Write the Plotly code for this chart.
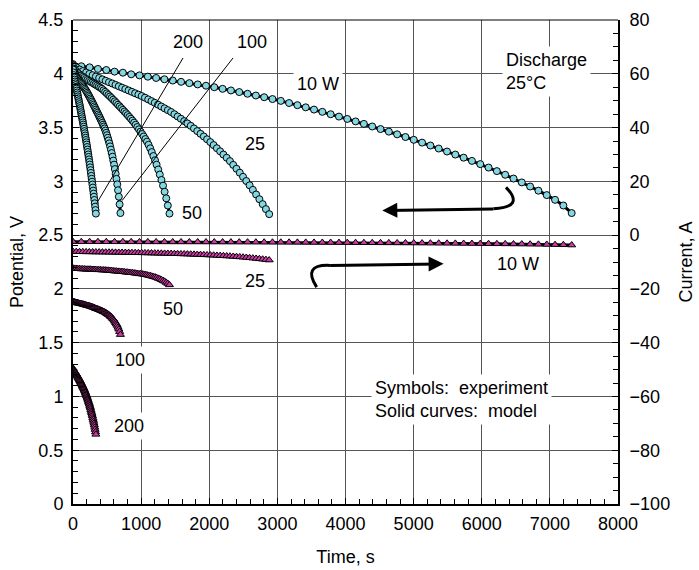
import plotly.graph_objects as go

# ---------------- discharge data (time in s, potential in V, current in A) ----------------
t_10 = [0, 122, 244, 366, 488, 610, 732, 854, 976, 1098, 1220, 1342, 1464, 1586, 1708, 1830, 1952,
        2074, 2196, 2318, 2440, 2562, 2684, 2806, 2928, 3050, 3172, 3294, 3416, 3538, 3660, 3782,
        3904, 4026, 4148, 4270, 4392, 4514, 4636, 4758, 4880, 5002, 5124, 5246, 5368, 5490, 5612,
        5734, 5856, 5978, 6100, 6222, 6344, 6466, 6588, 6710, 6832, 6954, 7076, 7198, 7320]
v_10 = [4.09, 4.07, 4.06, 4.045, 4.035, 4.02, 4.01, 3.995, 3.985, 3.973, 3.961, 3.949, 3.937, 3.925,
        3.913, 3.901, 3.889, 3.875, 3.860, 3.845, 3.830, 3.814, 3.798, 3.782, 3.765, 3.748, 3.728,
        3.708, 3.688, 3.667, 3.646, 3.624, 3.602, 3.580, 3.557, 3.534, 3.510, 3.486, 3.462, 3.437,
        3.412, 3.386, 3.360, 3.333, 3.305, 3.277, 3.249, 3.220, 3.190, 3.160, 3.128, 3.095, 3.061,
        3.026, 2.990, 2.952, 2.913, 2.872, 2.828, 2.775, 2.705]
i_10 = [-2.45, -2.46, -2.46, -2.47, -2.48, -2.49, -2.49, -2.50, -2.51, -2.52, -2.53, -2.53, -2.54,
        -2.55, -2.56, -2.56, -2.57, -2.58, -2.59, -2.60, -2.61, -2.62, -2.63, -2.64, -2.66, -2.67,
        -2.68, -2.70, -2.71, -2.73, -2.74, -2.76, -2.78, -2.79, -2.81, -2.83, -2.85, -2.87, -2.89,
        -2.91, -2.93, -2.95, -2.98, -3.00, -3.03, -3.05, -3.08, -3.11, -3.14, -3.17, -3.20, -3.23,
        -3.27, -3.31, -3.34, -3.39, -3.43, -3.48, -3.54, -3.60, -3.70]

t_25 = [0, 48, 96, 144, 192, 240, 288, 336, 384, 432, 480, 528, 576, 624, 672, 720, 768, 816, 864,
        912, 960, 1008, 1056, 1104, 1152, 1200, 1248, 1296, 1344, 1392, 1440, 1488, 1536, 1584,
        1632, 1680, 1728, 1776, 1824, 1872, 1920, 1968, 2016, 2064, 2112, 2160, 2208, 2256, 2304,
        2352, 2400, 2448, 2496, 2544, 2592, 2640, 2688, 2736, 2784, 2832, 2880]
v_25 = [4.08, 4.06, 4.04, 4.025, 4.012, 3.999, 3.987, 3.974, 3.961, 3.948, 3.935, 3.922, 3.910,
        3.897, 3.884, 3.871, 3.858, 3.845, 3.832, 3.819, 3.806, 3.793, 3.778, 3.762, 3.746, 3.730,
        3.713, 3.696, 3.679, 3.662, 3.645, 3.624, 3.603, 3.582, 3.560, 3.538, 3.516, 3.492, 3.467,
        3.442, 3.417, 3.391, 3.365, 3.337, 3.308, 3.279, 3.249, 3.219, 3.188, 3.153, 3.117, 3.080,
        3.042, 3.003, 2.963, 2.921, 2.878, 2.834, 2.788, 2.742, 2.695]
i_25 = [-6.13, -6.16, -6.19, -6.21, -6.23, -6.25, -6.27, -6.29, -6.31, -6.33, -6.35, -6.37, -6.39,
        -6.42, -6.44, -6.46, -6.48, -6.50, -6.52, -6.55, -6.57, -6.59, -6.62, -6.65, -6.67, -6.70,
        -6.73, -6.76, -6.80, -6.83, -6.86, -6.90, -6.94, -6.98, -7.02, -7.07, -7.11, -7.16, -7.21,
        -7.26, -7.32, -7.37, -7.43, -7.49, -7.56, -7.62, -7.69, -7.77, -7.84, -7.93, -8.02, -8.12,
        -8.22, -8.32, -8.44, -8.56, -8.69, -8.82, -8.97, -9.12, -9.28]

t_50 = [0, 24, 47, 71, 94, 118, 142, 165, 189, 212, 236, 260, 283, 307, 330, 354, 378, 401, 425,
        448, 472, 496, 519, 543, 566, 590, 614, 637, 661, 684, 708, 732, 755, 779, 802, 826, 850,
        873, 897, 920, 944, 968, 991, 1015, 1038, 1062, 1086, 1109, 1133, 1156, 1180, 1204, 1227,
        1251, 1274, 1298, 1322, 1345, 1369, 1392, 1416]
v_50 = [4.070, 4.045, 4.025, 4.008, 3.995, 3.983, 3.972, 3.962, 3.952, 3.943, 3.934, 3.925, 3.917,
        3.908, 3.899, 3.890, 3.880, 3.870, 3.860, 3.846, 3.832, 3.818, 3.803, 3.789, 3.774, 3.759,
        3.744, 3.728, 3.712, 3.697, 3.681, 3.665, 3.649, 3.633, 3.616, 3.599, 3.582, 3.564, 3.546,
        3.526, 3.505, 3.484, 3.462, 3.440, 3.417, 3.393, 3.369, 3.340, 3.307, 3.272, 3.235, 3.196,
        3.155, 3.110, 3.063, 3.013, 2.960, 2.903, 2.842, 2.775, 2.700]
i_50 = [-12.3, -12.4, -12.4, -12.5, -12.5, -12.6, -12.6, -12.6, -12.7, -12.7, -12.7, -12.7, -12.8,
        -12.8, -12.8, -12.9, -12.9, -12.9, -13.0, -13.0, -13.0, -13.1, -13.1, -13.2, -13.2, -13.3,
        -13.4, -13.4, -13.5, -13.5, -13.6, -13.6, -13.7, -13.8, -13.8, -13.9, -14.0, -14.0, -14.1,
        -14.2, -14.3, -14.4, -14.4, -14.5, -14.6, -14.7, -14.8, -15.0, -15.1, -15.3, -15.5, -15.6,
        -15.8, -16.1, -16.3, -16.6, -16.9, -17.2, -17.6, -18.0, -18.5]

t_100 = [0, 11.6, 23.2, 34.8, 46.4, 58, 69.6, 81.2, 92.8, 104.4, 116, 127.6, 139.2, 150.8, 162.4,
         174, 185.6, 197.2, 208.8, 220.4, 232, 243.6, 255.2, 266.8, 278.4, 290, 301.6, 313.2, 324.8,
         336.4, 348, 359.6, 371.2, 382.8, 394.4, 406, 417.6, 429.2, 440.8, 452.4, 464, 475.6, 487.2,
         498.8, 510.4, 522, 533.6, 545.2, 556.8, 568.4, 580, 591.6, 603.2, 614.8, 626.4, 638, 649.6,
         661.2, 672.8, 684.4, 696]
v_100 = [4.05, 4.03, 4.012, 3.995, 3.980, 3.967, 3.956, 3.946, 3.936, 3.926, 3.916, 3.906, 3.895,
         3.884, 3.873, 3.861, 3.849, 3.837, 3.824, 3.811, 3.798, 3.784, 3.770, 3.756, 3.742, 3.727,
         3.712, 3.697, 3.682, 3.667, 3.652, 3.637, 3.622, 3.607, 3.592, 3.576, 3.560, 3.544, 3.527,
         3.510, 3.492, 3.472, 3.451, 3.429, 3.405, 3.380, 3.353, 3.325, 3.295, 3.263, 3.229, 3.193,
         3.155, 3.114, 3.070, 3.023, 2.972, 2.917, 2.857, 2.786, 2.705]
i_100 = [-24.7, -24.8, -24.9, -25.0, -25.1, -25.2, -25.3, -25.3, -25.4, -25.5, -25.5, -25.6, -25.7,
         -25.7, -25.8, -25.9, -26.0, -26.1, -26.2, -26.2, -26.3, -26.4, -26.5, -26.6, -26.7, -26.8,
         -26.9, -27.0, -27.2, -27.3, -27.4, -27.5, -27.6, -27.7, -27.8, -28.0, -28.1, -28.2, -28.4,
         -28.5, -28.6, -28.8, -29.0, -29.2, -29.4, -29.6, -29.8, -30.1, -30.3, -30.6, -31.0, -31.3,
         -31.7, -32.1, -32.6, -33.1, -33.6, -34.3, -35.0, -35.9, -37.0]

t_200 = [0, 5.6, 11.2, 16.8, 22.4, 28, 33.6, 39.2, 44.8, 50.4, 56, 61.6, 67.2, 72.8, 78.4, 84, 89.6,
         95.2, 100.8, 106.4, 112, 117.6, 123.2, 128.8, 134.4, 140, 145.6, 151.2, 156.8, 162.4, 168,
         173.6, 179.2, 184.8, 190.4, 196, 201.6, 207.2, 212.8, 218.4, 224, 229.6, 235.2, 240.8,
         246.4, 252, 257.6, 263.2, 268.8, 274.4, 280, 285.6, 291.2, 296.8, 302.4, 308, 313.6, 319.2,
         324.8, 330.4, 336]
v_200 = [4.040, 4.012, 3.988, 3.966, 3.946, 3.928, 3.911, 3.895, 3.879, 3.862, 3.844, 3.826, 3.808,
         3.790, 3.772, 3.754, 3.736, 3.718, 3.700, 3.681, 3.662, 3.643, 3.624, 3.605, 3.586, 3.567,
         3.548, 3.528, 3.508, 3.488, 3.467, 3.447, 3.426, 3.405, 3.384, 3.363, 3.342, 3.319, 3.296,
         3.273, 3.250, 3.227, 3.204, 3.180, 3.156, 3.130, 3.104, 3.078, 3.051, 3.024, 2.997, 2.970,
         2.942, 2.914, 2.886, 2.857, 2.827, 2.796, 2.765, 2.733, 2.700]
i_200 = [-49.5, -49.9, -50.2, -50.4, -50.7, -50.9, -51.1, -51.3, -51.6, -51.8, -52.0, -52.3, -52.5,
         -52.8, -53.0, -53.3, -53.5, -53.8, -54.1, -54.3, -54.6, -54.9, -55.2, -55.5, -55.8, -56.1,
         -56.4, -56.7, -57.0, -57.3, -57.7, -58.0, -58.4, -58.7, -59.1, -59.5, -59.8, -60.3, -60.7,
         -61.1, -61.5, -62.0, -62.4, -62.9, -63.4, -63.9, -64.4, -65.0, -65.6, -66.1, -66.7, -67.3,
         -68.0, -68.6, -69.3, -70.0, -70.7, -71.5, -72.3, -73.2, -74.1]

runs = [
    ("10 W", t_10, v_10, i_10),
    ("25 W", t_25, v_25, i_25),
    ("50 W", t_50, v_50, i_50),
    ("100 W", t_100, v_100, i_100),
    ("200 W", t_200, v_200, i_200),
]

FONT = "Liberation Sans, Arial, Helvetica, sans-serif"
CYAN = "#84d7e2"
MAGENTA = "#cc3aa6"
GRID = "#555555"

fig = go.Figure()

# model curves (solid black) underneath the measured points
for name, t, v, cur in runs:
    fig.add_trace(go.Scatter(x=t, y=v, mode="lines", line=dict(color="black", width=3),
                             name=name + " model V", showlegend=False, hoverinfo="skip"))
    fig.add_trace(go.Scatter(x=t, y=cur, mode="lines", yaxis="y2",
                             line=dict(color="black", width=3),
                             name=name + " model I", showlegend=False, hoverinfo="skip"))

# measured points: circles for potential, triangles for current
for name, t, v, cur in runs:
    fig.add_trace(go.Scatter(x=t, y=v, mode="markers", name=name + " potential",
                             marker=dict(symbol="circle", size=7, color=CYAN,
                                         line=dict(color="black", width=1)),
                             showlegend=False))
    fig.add_trace(go.Scatter(x=t, y=cur, mode="markers", yaxis="y2", name=name + " current",
                             marker=dict(symbol="triangle-up", size=7, color=MAGENTA,
                                         line=dict(color="black", width=1)),
                             showlegend=False))

# ---------------- labels ----------------
def label(text, x, y, bg=True, xanchor="center", yanchor="middle", align="center"):
    fig.add_annotation(text=text, x=x, y=y, xref="x", yref="y", showarrow=False,
                       xanchor=xanchor, yanchor=yanchor, align=align,
                       font=dict(family=FONT, size=18, color="black"),
                       bgcolor="white" if bg else "rgba(0,0,0,0)", borderpad=3)

label("200", 1688, 4.296, bg=False)
label("100", 2628, 4.296, bg=False)
label("10 W", 3596, 3.906)
label("25", 2672, 3.35, bg=False)
label("50", 1747, 2.709, bg=False)
label("Discharge<br>25°C", 6297, 4.017, xanchor="left", align="left")
label("10 W", 6532, 2.236, bg=False)
label("25", 2672, 2.078)
label("50", 1468, 1.809, bg=False)
label("100", 837, 1.336)
label("200", 822, 0.724)
label("Symbols:\u00a0 experiment<br>Solid curves:\u00a0 model", 4374, 0.974,
      xanchor="left", align="left")

# leader lines from the top labels to the ends of the 200 W and 100 W curves
fig.add_shape(type="line", xref="x", yref="y", x0=1615, y0=4.147, x1=352, y1=2.80,
              line=dict(color="black", width=1))
fig.add_shape(type="line", xref="x", yref="y", x0=2349, y0=4.147, x1=719, y1=2.82,
              line=dict(color="black", width=1))

# curved arrows pointing to the axis each family belongs to
fig.add_shape(type="path", xref="x", yref="y",
              path="M 6356,2.944 Q 6640,2.76 6170,2.744",
              line=dict(color="black", width=3))
fig.add_annotation(x=4540, y=2.728, ax=6190, ay=2.744, xref="x", yref="y",
                   axref="x", ayref="y", text="", showarrow=True,
                   arrowhead=2, arrowsize=1, arrowwidth=3, arrowcolor="black")
fig.add_shape(type="path", xref="x", yref="y",
              path="M 3577,2.016 Q 3360,2.23 3772,2.218",
              line=dict(color="black", width=3))
fig.add_annotation(x=5440, y=2.233, ax=3752, ay=2.218, xref="x", yref="y",
                   axref="x", ayref="y", text="", showarrow=True,
                   arrowhead=2, arrowsize=1, arrowwidth=3, arrowcolor="black")

# thin frame line along the top of the plot
fig.add_shape(type="line", xref="paper", yref="paper", x0=0, x1=1, y0=1, y1=1,
              line=dict(color="black", width=1))

tickfont = dict(family=FONT, size=18, color="black")
fig.update_layout(
    width=699, height=570,
    margin=dict(l=73, r=81, t=20, b=66, autoexpand=False),
    paper_bgcolor="white", plot_bgcolor="white",
    font=dict(family=FONT, size=18, color="black"),
    showlegend=False,
    xaxis=dict(range=[0, 8000], dtick=1000, tick0=0, showgrid=True, gridcolor=GRID, gridwidth=1,
               zeroline=False, showline=True, linecolor="black", linewidth=2, automargin=False,
               ticks="inside", ticklen=6, tickcolor="black", tickfont=tickfont,
               ticklabelstandoff=2,
               minor=dict(dtick=200, ticks="inside", ticklen=5, tickcolor="black", showgrid=False),
               title=dict(text="Time, s", font=tickfont, standoff=18)),
    yaxis=dict(range=[0, 4.5], dtick=0.5, tick0=0, showgrid=True, gridcolor=GRID, gridwidth=1,
               zeroline=False, showline=True, linecolor="black", linewidth=2, automargin=False,
               ticks="inside", ticklen=6, tickcolor="black", tickfont=tickfont,
               ticklabelstandoff=4,
               minor=dict(dtick=0.1, ticks="inside", ticklen=5, tickcolor="black", showgrid=False),
               title=dict(text="Potential, V", font=tickfont, standoff=10)),
    yaxis2=dict(range=[-100, 80], dtick=20, tick0=0, overlaying="y", side="right",
                showgrid=False, zeroline=False, showline=True, linecolor="black", linewidth=2,
                automargin=False,
                ticks="inside", ticklen=6, tickcolor="black", tickfont=tickfont,
                ticklabelstandoff=6,
                minor=dict(dtick=5, ticks="inside", ticklen=5, tickcolor="black"),
                title=dict(text="Current, A", font=tickfont, standoff=10)),
)

fig.write_html("out.html")
